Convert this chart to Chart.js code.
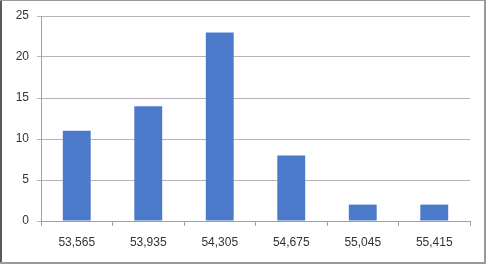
<!DOCTYPE html>
<html lang="en">
  <head>
    <meta charset="UTF-8" />
    <title>Histogram</title>
    <script src="https://cdn.jsdelivr.net/npm/chart.js"></script>
    <style>
      html, body { margin: 0; padding: 0; background: #ffffff; }
      #frame {
        position: relative;
        width: 486px;
        height: 264px;
      }
      canvas { position: absolute; left: 0; top: 0; }
    </style>
  </head>
  <body>
    <div id="frame">
      <canvas id="myChart" width="486" height="264"></canvas>
    </div>

    <script>
      // data
      var categories = ["53,565", "53,935", "54,305", "54,675", "55,045", "55,415"];
      var counts = [11, 14, 23, 8, 2, 2];
      var yTicks = [0, 5, 10, 15, 20, 25];

      // outer picture border
      var framePlugin = {
        id: "frame",
        afterDraw: function (chart) {
          var c = chart.ctx;
          c.save();
          c.fillStyle = "#5a5a5a";
          c.fillRect(0, 0, 2, 264);
          c.fillStyle = "#9a9a9a";
          c.fillRect(0, 0, 486, 1);
          c.fillRect(484, 0, 2, 264);
          c.fillRect(0, 262, 486, 2);
          c.restore();
        },
      };

      var ctx = document.getElementById("myChart").getContext("2d");
      var myChart = new Chart(ctx, {
        type: "bar",
        data: {
          labels: categories,
          datasets: [
            {
              data: counts,
              backgroundColor: "#4c7acb",
              borderWidth: 0,
              categoryPercentage: 0.39,
              barPercentage: 1.0,
            },
          ],
        },
        plugins: [framePlugin],
        options: {
          responsive: false,
          animation: false,
          layout: { padding: { left: 0, right: 16, top: 16, bottom: 0 } },
          plugins: {
            legend: { display: false },
            tooltip: { enabled: false },
          },
          scales: {
            x: {
              grid: {
                drawOnChartArea: false,
                drawTicks: true,
                tickLength: 5,
                color: "#a0a0a0",
              },
              border: { display: true, color: "#a0a0a0" },
              ticks: {
                color: "#333333",
                padding: 9,
                font: { family: "Liberation Sans", size: 12 },
                maxRotation: 0,
              },
              afterFit: function (s) { s.height = 43; },
            },
            y: {
              min: 0,
              max: 25,
              afterBuildTicks: function (s) {
                s.ticks = yTicks.map(function (v) { return { value: v }; });
              },
              grid: {
                color: "#b8b0bc",
                tickLength: 4,
              },
              border: { display: true, color: "#a0a0a0" },
              ticks: {
                color: "#333333",
                padding: 8,
                font: { family: "Liberation Sans", size: 12 },
              },
              afterFit: function (s) { s.width = 41; },
            },
          },
        },
      });
    </script>
  </body>
</html>
